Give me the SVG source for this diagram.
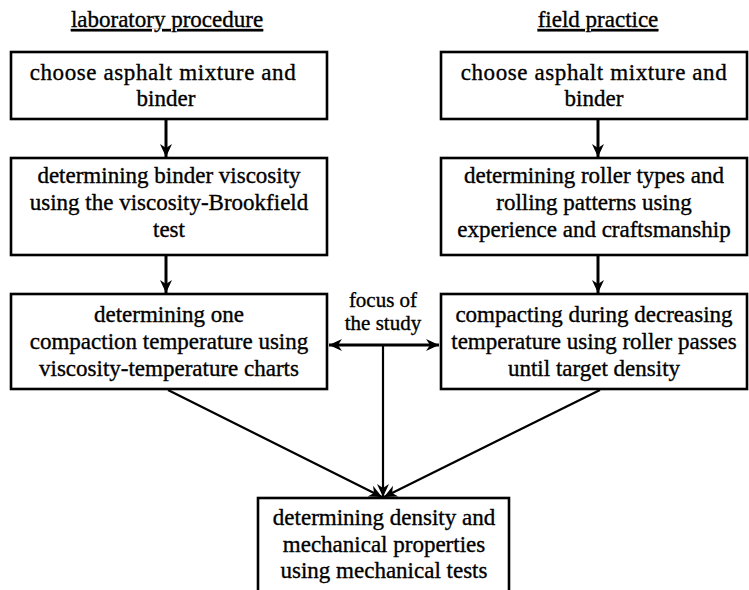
<svg xmlns="http://www.w3.org/2000/svg" width="749" height="590" viewBox="0 0 749 590">
<style>
text{font-family:'Liberation Serif','DejaVu Serif','Times New Roman',serif;fill:#000;stroke:#000;stroke-width:0.35;text-anchor:middle}
.box{fill:#fff;stroke:#000;stroke-width:2.6}
.t{font-size:23px}
.w{letter-spacing:0.6px}
.h{font-size:23px;text-decoration:underline}
.f{font-size:21px}
.c{stroke:#000;stroke-width:3;fill:none}
.d{stroke:#000;stroke-width:2.2;fill:none}
</style>
<defs>
<marker id="ah" markerUnits="userSpaceOnUse" markerWidth="14" markerHeight="14" viewBox="0 0 14 14" refX="13" refY="7" orient="auto-start-reverse">
<path d="M0,1 L13,7 L0,13 L4,7 z" fill="#000"/>
</marker>
</defs>
<rect width="749" height="590" fill="#fff"/>
<g id="headings">
<text class="h" x="167" y="27">laboratory procedure</text>
<text class="h" x="598" y="27">field practice</text>
</g>
<g id="connectors">
<line class="c" x1="166" y1="119" x2="166" y2="157" marker-end="url(#ah)"/>
<line class="c" x1="166" y1="255" x2="166" y2="293" marker-end="url(#ah)"/>
<line class="c" x1="598" y1="119" x2="598" y2="157" marker-end="url(#ah)"/>
<line class="c" x1="598" y1="255" x2="598" y2="293" marker-end="url(#ah)"/>
<line class="c" x1="329" y1="345" x2="439" y2="345" marker-start="url(#ah)" marker-end="url(#ah)"/>
<line class="d" x1="383" y1="345" x2="383" y2="497" marker-end="url(#ah)"/>
<line class="d" x1="168" y1="390" x2="382" y2="497" marker-end="url(#ah)"/>
<line class="d" x1="600" y1="390" x2="384" y2="497" marker-end="url(#ah)"/>
</g>
<g id="lab1">
<rect class="box" x="11" y="52" width="316" height="67"/>
<text class="t w" x="163" y="80">choose asphalt mixture and</text>
<text class="t" x="166" y="106">binder</text>
</g>
<g id="lab2">
<rect class="box" x="11" y="158" width="316" height="97"/>
<text class="t" x="169" y="183">determining binder viscosity</text>
<text class="t" x="169" y="210">using the viscosity-Brookfield</text>
<text class="t" x="169" y="237">test</text>
</g>
<g id="lab3">
<rect class="box" x="11" y="294" width="316" height="95"/>
<text class="t" x="169" y="322">determining one</text>
<text class="t" x="169" y="349">compaction temperature using</text>
<text class="t" x="169" y="376">viscosity-temperature charts</text>
</g>
<g id="field1">
<rect class="box" x="441" y="52" width="306" height="67"/>
<text class="t w" x="594" y="80">choose asphalt mixture and</text>
<text class="t" x="594" y="106">binder</text>
</g>
<g id="field2">
<rect class="box" x="441" y="158" width="306" height="97"/>
<text class="t" x="594" y="183">determining roller types and</text>
<text class="t" x="594" y="210">rolling patterns using</text>
<text class="t" x="594" y="237">experience and craftsmanship</text>
</g>
<g id="field3">
<rect class="box" x="441" y="294" width="306" height="95"/>
<text class="t" x="594" y="322">compacting during decreasing</text>
<text class="t" x="594" y="349">temperature using roller passes</text>
<text class="t" x="594" y="376">until target density</text>
</g>
<g id="focus">
<text class="f" x="383" y="307">focus of</text>
<text class="f" x="383" y="330">the study</text>
</g>
<g id="result">
<rect class="box" x="258" y="498" width="251" height="100"/>
<text class="t" x="384" y="525">determining density and</text>
<text class="t" x="384" y="552">mechanical properties</text>
<text class="t" x="384" y="578">using mechanical tests</text>
</g>
</svg>
